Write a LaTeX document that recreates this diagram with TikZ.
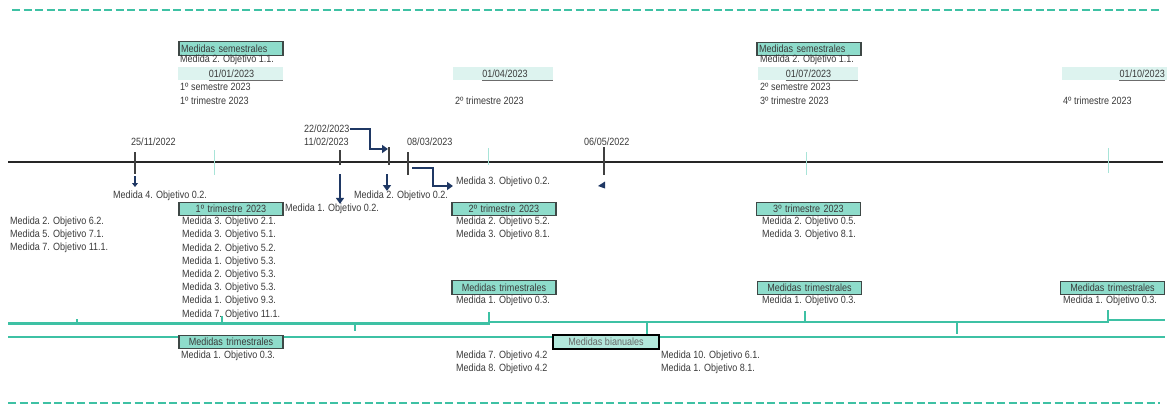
\documentclass[tikz,border=0pt]{standalone}
\usepackage{fontspec}
\setmainfont{Liberation Sans}[FakeStretch=0.86]
\usetikzlibrary{arrows.meta}

\definecolor{tealline}{HTML}{3EC1A4}
\definecolor{tealfill}{HTML}{8EDCCB}
\definecolor{tealpale}{HTML}{B3E8DC}
\definecolor{tealbar}{HTML}{DDF3EF}
\definecolor{tealtick}{HTML}{A8E4D8}
\definecolor{boxline}{HTML}{3E4846}
\definecolor{inkgray}{HTML}{3A3A3A}
\definecolor{navy}{HTML}{1F3864}

\begin{document}
\begin{tikzpicture}[x=1pt,y=-1pt,
  every node/.style={font=\fontsize{10.5}{12}\selectfont, text=inkgray},
  txt/.style={anchor=west, inner sep=0pt},
  hdrbox/.style={draw=boxline, line width=1.3pt, fill=tealfill, minimum height=13.5pt,
                 inner xsep=2pt, inner ysep=0pt, text width=100pt},
  hdrleft/.style={hdrbox, align=left},
  hdrmid/.style={hdrbox, align=center},
  datebar/.style={fill=tealbar, inner sep=0pt, minimum height=13pt},
  datetxt/.style={inner sep=0pt},
  uline/.style={draw=gray!85!black, line width=1.2pt},
  mainline/.style={draw=black!85, line width=2pt},
  darktick/.style={draw=black!75, line width=1.4pt},
  lighttick/.style={draw=tealtick, line width=1pt},
  navyarrow/.style={draw=navy, line width=2.8pt, -{Triangle[length=6pt,width=8pt]}},
  navysmall/.style={draw=navy, line width=1.8pt, -{Triangle[length=4pt,width=6pt]}},
  tealrule/.style={draw=tealline, line width=2.6pt},
  tealdash/.style={draw=tealline, line width=2.2pt, dash pattern=on 8pt off 3.5pt},
]
\useasboundingbox (0,0) rectangle (1171,405);

% frame dashes
\draw[tealdash] (12,10) -- (1160,10);
\draw[tealdash] (8,403) -- (1160,403);

% ---------- upper calendar blocks ----------
\node[hdrleft] (sem1) at (231,48.5) {Medidas semestrales};
\node[txt] (sem1m) at (180,60) {Medida 2. Objetivo 1.1.};
\node[datebar, minimum width=105pt] (bar1) at (230.5,73.5) {};
\node[datetxt] (bar1t) at (231.5,73.5) {01/01/2023};
\draw[uline] (bar1t.west |- bar1.south) -- (bar1.south east);
\node[txt] (s1a) at (180,87) {1º semestre 2023};
\node[txt] (s1b) at (180,101) {1º trimestre 2023};

\node[datebar, minimum width=100pt] (bar2) at (503,73.5) {};
\node[datetxt] (bar2t) at (505,73.5) {01/04/2023};
\draw[uline] (bar2t.west |- bar2.south) -- (bar2.south east);
\node[txt] (s2b) at (455,101) {2º trimestre 2023};

\node[hdrleft] (sem2) at (809,49) {Medidas semestrales};
\node[txt] (sem2m) at (760,60) {Medida 2. Objetivo 1.1.};
\node[datebar, minimum width=100pt] (bar3) at (808,73.5) {};
\node[datetxt] (bar3t) at (808.5,73.5) {01/07/2023};
\draw[uline] (bar3t.west |- bar3.south) -- (bar3.south east);
\node[txt] (s3a) at (760,87) {2º semestre 2023};
\node[txt] (s3b) at (760,101) {3º trimestre 2023};

\node[datebar, minimum width=105pt] (bar4) at (1114.5,73.5) {};
\node[datetxt, anchor=east] (bar4t) at (1165,73.5) {01/10/2023};
\draw[uline] (bar4t.west |- bar4.south) -- (bar4t.east |- bar4.south);
\node[txt] (s4b) at (1063,101) {4º trimestre 2023};

% ---------- main timeline ----------
\draw[mainline] (8,162) -- (1163,162);
\draw[lighttick] (214,150) -- (214,175);
\draw[lighttick] (488,148) -- (488,165);
\draw[lighttick] (806,152) -- (806,175);
\draw[lighttick] (1108,148) -- (1108,173);

\draw[darktick] (135,152) -- (135,174);
\draw[darktick] (340,150) -- (340,165);
\draw[darktick] (389,147) -- (389,165);
\draw[darktick] (408,152) -- (408,175);
\draw[darktick] (604,147) -- (604,175);

\node[txt] (d2511) at (131,142) {25/11/2022};
\node[txt] (d2202) at (304,129) {22/02/2023};
\node[txt] (d1102) at (304,142) {11/02/2023};
\node[txt] (d0803) at (407,142) {08/03/2023};
\node[txt] (d0605) at (584,142) {06/05/2022};

% measures hanging from the dates
\node[txt] (a1) at (113,196) {Medida 4. Objetivo 0.2.};
\node[txt] (a2) at (285,209) {Medida 1. Objetivo 0.2.};
\node[txt] (a3) at (354,196) {Medida 2. Objetivo 0.2.};
\node[txt] (a4) at (456,182) {Medida 3. Objetivo 0.2.};

\coordinate (k1) at (135,176);
\coordinate (k2) at (340,174);
\coordinate (k3) at (387,174);
\coordinate (k3in) at (388,149);
\coordinate (k4) at (412,168);
\coordinate (k4in) at (453,186);

\draw[navysmall] (k1) -- (135,187);
\draw[navyarrow] (k2) -- (k2 |- a2.north);
\draw[navyarrow] (k3) -- (387,191);
\draw[navyarrow] (d2202.east) -- (370,129) |- (k3in);
\draw[navyarrow] (k4) -- (433,168) |- (k4in);
\fill[navy] (598,186) -- (605,181.5) -- (605,188.5) -- cycle;

% ---------- quarterly blocks ----------
\node[hdrmid] (q1) at (231,209) {1º trimestre 2023};
\node[hdrmid] (q2) at (504,209) {2º trimestre 2023};
\node[hdrmid] (q3) at (808.5,209) {3º trimestre 2023};

\node[txt] (l1) at (10,222) {Medida 2. Objetivo 6.2.};
\node[txt] (l2) at (10,235) {Medida 5. Objetivo 7.1.};
\node[txt] (l3) at (10,248) {Medida 7. Objetivo 11.1.};

\node[txt] (q1a) at (182,222) {Medida 3. Objetivo 2.1.};
\node[txt] (q1b) at (182,235.2) {Medida 3. Objetivo 5.1.};
\node[txt] (q1c) at (182,248.4) {Medida 2. Objetivo 5.2.};
\node[txt] (q1d) at (182,261.6) {Medida 1. Objetivo 5.3.};
\node[txt] (q1e) at (182,274.8) {Medida 2. Objetivo 5.3.};
\node[txt] (q1f) at (182,288) {Medida 3. Objetivo 5.3.};
\node[txt] (q1g) at (182,301.2) {Medida 1. Objetivo 9.3.};
\node[txt] (q1h) at (182,314.4) {Medida 7. Objetivo 11.1.};

\node[txt] (q2a) at (456,222) {Medida 2. Objetivo 5.2.};
\node[txt] (q2b) at (456,235) {Medida 3. Objetivo 8.1.};
\node[txt] (q3a) at (762,222) {Medida 2. Objetivo 0.5.};
\node[txt] (q3b) at (762,235) {Medida 3. Objetivo 8.1.};

% ---------- lower rails ----------
\draw[tealrule] (8,323.5) -- (489,323.5) -- (489,322) -- (1108,322) -- (1108,320) -- (1165,320);
\draw[tealrule] (8,337) -- (1165,337);
\draw[tealline, line width=1.6pt] (77,323) -- (77,319);
\draw[tealrule] (222,323) -- (222,316);
\draw[tealrule] (355,323) -- (355,331);
\draw[tealrule] (489,323) -- (489,312);
\draw[tealrule] (647,322) -- (647,336);
\draw[tealrule] (805,322) -- (805,311);
\draw[tealrule] (957,322) -- (957,334);
\draw[tealrule] (1108,321) -- (1108,310);

\node[hdrmid] (t2) at (504,287.5) {Medidas trimestrales};
\node[txt] (t2m) at (456,301) {Medida 1. Objetivo 0.3.};
\node[hdrmid] (t3) at (809.5,288) {Medidas trimestrales};
\node[txt] (t3m) at (762,301) {Medida 1. Objetivo 0.3.};
\node[hdrmid] (t4) at (1112.5,288) {Medidas trimestrales};
\node[txt] (t4m) at (1063,301) {Medida 1. Objetivo 0.3.};

\node[hdrmid] (t1) at (231,342) {Medidas trimestrales};
\node[txt] (t1m) at (181,356) {Medida 1. Objetivo 0.3.};

\node[draw=black, line width=2pt, fill=tealpale, minimum height=14pt, minimum width=106pt,
      inner sep=0pt, text=gray!80!black] (bi) at (606,341.5) {Medidas bianuales};
\node[txt] (b1) at (456,356) {Medida 7. Objetivo 4.2};
\node[txt] (b2) at (456,369) {Medida 8. Objetivo 4.2};
\node[txt] (b3) at (661,356) {Medida 10. Objetivo 6.1.};
\node[txt] (b4) at (661,369) {Medida 1. Objetivo 8.1.};
\end{tikzpicture}
\end{document}
